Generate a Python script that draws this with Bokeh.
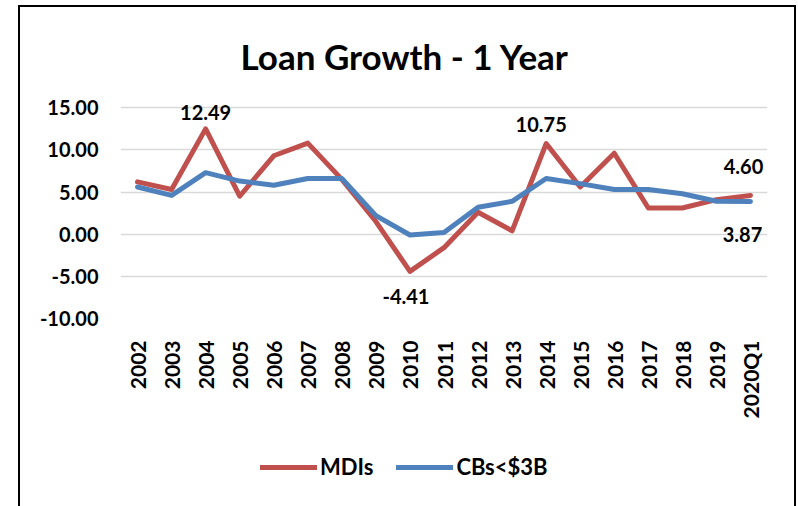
import math
from bokeh.plotting import figure
from bokeh.layouts import column
from bokeh.models import (ColumnDataSource, FactorRange, Range1d, FixedTicker,
                          NumeralTickFormatter, Legend, LegendItem)
from bokeh.core.properties import value
from bokeh.embed import file_html
from bokeh.resources import INLINE

# ---- data ----
years = ["2002", "2003", "2004", "2005", "2006", "2007", "2008", "2009", "2010",
         "2011", "2012", "2013", "2014", "2015", "2016", "2017", "2018", "2019", "2020Q1"]
mdis = [6.2, 5.3, 12.49, 4.5, 9.3, 10.8, 6.5, 1.5, -4.41,
        -1.6, 2.6, 0.4, 10.75, 5.6, 9.6, 3.1, 3.1, 4.1, 4.60]
cbs = [5.6, 4.6, 7.3, 6.3, 5.8, 6.6, 6.6, 2.2, -0.1,
       0.2, 3.2, 3.9, 6.6, 6.0, 5.3, 5.3, 4.8, 3.9, 3.87]
y_ticks = [-10, -5, 0, 5, 10, 15]
series_names = ["MDIs", "CBs<$3B"]

label_x = ["2004", "2010", "2014", "2020Q1", "2020Q1"]
label_y = [12.49, -4.41, 10.75, 4.60, 3.87]
label_text = ["12.49", "-4.41", "10.75", "4.60", "3.87"]

# ---- style ----
RED = "#C0504D"
BLUE = "#4F81BD"
FONT = "Lato"

p = figure(width=774, height=420, x_range=FactorRange(*years), y_range=Range1d(-10, 15.5),
           output_backend="svg", toolbar_location=None,
           min_border_left=100, min_border_right=27, min_border_top=96, min_border_bottom=109)
p.outline_line_color = None
p.background_fill_color = "white"
p.border_fill_color = "white"

p.title.text = "Loan Growth - 1 Year"
p.title.align = "left"
p.title.offset = 120
p.title.vertical_align = "top"
p.title.text_font = FONT
p.title.text_font_size = "35px"
p.title.text_font_style = "bold"
p.title.text_color = "black"
p.title.standoff = 50

p.line(years, mdis, line_color=RED, line_width=5, line_join="round", line_cap="round")
p.line(years, cbs, line_color=BLUE, line_width=5, line_join="round", line_cap="round")

# axes
p.xgrid.grid_line_color = None
p.ygrid.grid_line_color = "#D9D9D9"
p.ygrid.grid_line_width = 1.5
p.yaxis.ticker = FixedTicker(ticks=y_ticks)
p.yaxis.formatter = NumeralTickFormatter(format="0.00")
for ax in (p.xaxis[0], p.yaxis[0]):
    ax.axis_line_color = None
    ax.major_tick_line_color = None
    ax.minor_tick_line_color = None
    ax.major_tick_in = 0
    ax.major_tick_out = 0
    ax.major_label_text_font = FONT
    ax.major_label_text_font_style = "bold"
    ax.major_label_text_color = "black"
p.yaxis.major_label_text_font_size = "20px"
p.yaxis.major_label_standoff = 22
p.xaxis.major_label_text_font_size = "21px"
p.xaxis.major_label_orientation = math.pi / 2
p.xaxis.major_label_standoff = 22

# data labels
x_off = [0, -4, -5, -7, -8]
y_off = [-16, 25, -19, -29, 33]
lsrc = ColumnDataSource(dict(x=label_x, y=label_y, t=label_text, xo=x_off, yo=y_off))
p.text(x="x", y="y", text="t", x_offset="xo", y_offset="yo", source=lsrc,
       text_align="center", text_baseline="middle", text_font=value(FONT),
       text_font_size="20px", text_font_style="bold", text_color="black")

# legend strip (below the chart); its lines carry the same series, kept out of view
pl = figure(width=774, height=79, x_range=FactorRange(*years), y_range=Range1d(100, 101),
            output_backend="svg", toolbar_location=None,
            min_border_left=100, min_border_right=27, min_border_top=0, min_border_bottom=0)
pl.axis.visible = False
pl.grid.visible = False
pl.outline_line_color = None
pl.border_fill_color = "white"
lr1 = pl.line(years, mdis, line_color=RED, line_width=5, line_cap="round")
lr2 = pl.line(years, cbs, line_color=BLUE, line_width=5, line_cap="round")
legend = Legend(items=[LegendItem(label=series_names[0], renderers=[lr1]),
                       LegendItem(label=series_names[1], renderers=[lr2])],
                location=(140, 26), orientation="horizontal",
                glyph_width=57, glyph_height=20, label_standoff=3, spacing=23,
                padding=0, margin=0, border_line_color=None, background_fill_alpha=0,
                label_text_font=FONT, label_text_font_size="22px",
                label_text_font_style="bold", label_text_color="black")
pl.add_layout(legend, "center")

layout = column(p, pl, spacing=0)
layout.styles = {"margin-left": "18px", "margin-top": "5px",
                 "border-left": "2px solid black", "border-top": "2px solid black",
                 "border-right": "2px solid black"}

open("out.html", "w").write(file_html(layout, INLINE))
